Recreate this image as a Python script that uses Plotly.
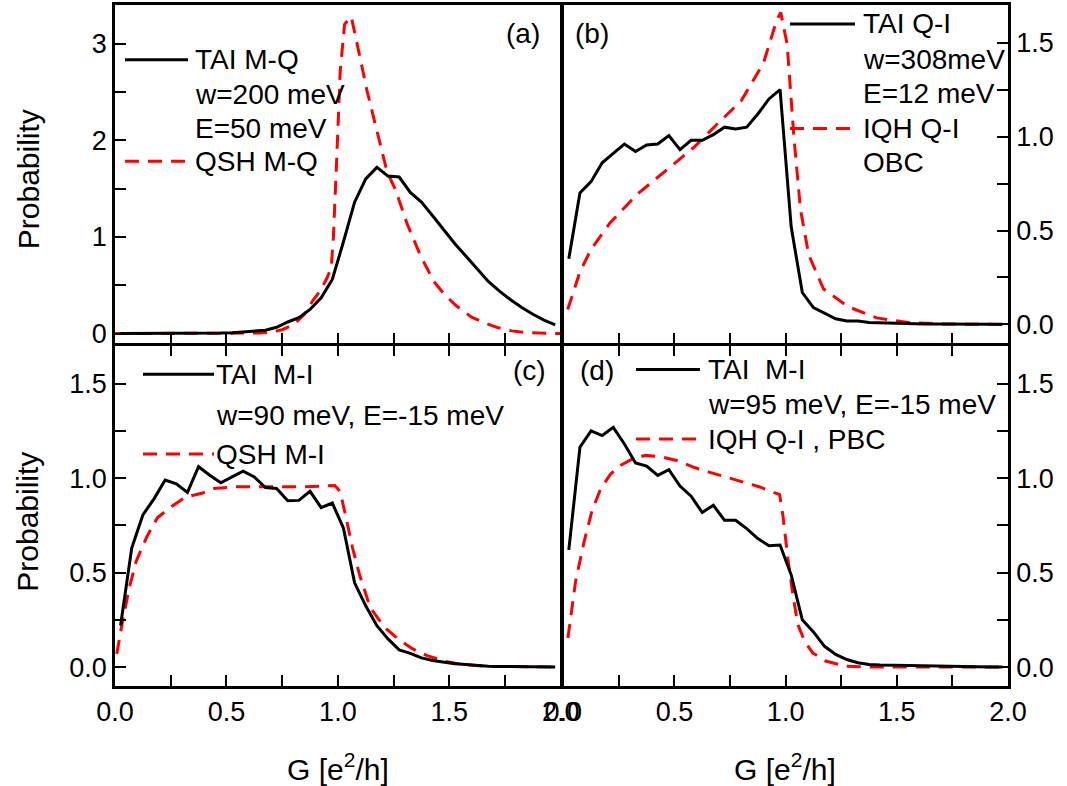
import plotly.graph_objects as go

# ---------------- data ----------------
# (a) TAI M-Q (binned histogram, bin centres) and QSH M-Q
a_tai_x = [0.025, 0.075, 0.125, 0.175, 0.225, 0.275, 0.325, 0.375, 0.425, 0.475,
           0.525, 0.575, 0.625, 0.675, 0.725, 0.775, 0.825, 0.875, 0.925, 0.975,
           1.025, 1.075, 1.125, 1.175, 1.225, 1.275, 1.325, 1.375, 1.425, 1.475,
           1.525, 1.575, 1.625, 1.675, 1.725, 1.775, 1.825, 1.875, 1.925, 1.975]
a_tai_y = [0.0, 0.0, 0.0, 0.0, 0.0, 0.0, 0.0, 0.0, 0.002, 0.005,
           0.01, 0.02, 0.025, 0.035, 0.065, 0.12, 0.165, 0.25, 0.37, 0.56,
           0.95, 1.36, 1.60, 1.72, 1.63, 1.62, 1.46, 1.36, 1.22, 1.07,
           0.93, 0.80, 0.67, 0.54, 0.44, 0.35, 0.27, 0.20, 0.14, 0.09]
a_qsh_x = [0.0, 0.1, 0.2, 0.3, 0.4, 0.5, 0.6, 0.65, 0.7, 0.75, 0.8, 0.85, 0.89, 0.92,
           0.95, 0.97, 0.98, 0.99, 1.0, 1.01, 1.03, 1.06, 1.08, 1.1, 1.13, 1.18, 1.22,
           1.26, 1.31, 1.37, 1.43, 1.48, 1.53, 1.6, 1.66, 1.72, 1.78, 1.85, 1.9, 2.0]
a_qsh_y = [0.0, 0.0, 0.0, 0.0, 0.0, 0.0, 0.003, 0.006, 0.015, 0.04, 0.09, 0.2, 0.35, 0.44,
           0.57, 0.68, 1.0, 1.5, 2.1, 2.7, 3.2, 3.28, 3.05, 2.85, 2.52, 2.04, 1.68,
           1.48, 1.14, 0.81, 0.54, 0.40, 0.29, 0.17, 0.11, 0.06, 0.028, 0.01, 0.005, 0.0]

# (b) TAI Q-I and IQH Q-I (OBC)
b_tai_x = a_tai_x
b_tai_y = [0.35, 0.70, 0.76, 0.86, 0.91, 0.96, 0.92, 0.955, 0.96, 1.005,
           0.93, 0.98, 0.98, 1.01, 1.05, 1.04, 1.05, 1.12, 1.20, 1.25,
           0.52, 0.17, 0.09, 0.06, 0.03, 0.018, 0.018, 0.01, 0.008, 0.006,
           0.005, 0.004, 0.003, 0.003, 0.002, 0.002, 0.002, 0.001, 0.001, 0.001]
b_iqh_x = [0.02, 0.075, 0.125, 0.21, 0.33, 0.46, 0.59, 0.69, 0.8, 0.9, 0.96, 0.978,
           1.007, 1.037, 1.067, 1.104, 1.17, 1.28, 1.41, 1.56, 1.7, 1.85, 2.0]
b_iqh_y = [0.08, 0.28, 0.40, 0.54, 0.69, 0.82, 0.945, 1.064, 1.19, 1.39, 1.62, 1.66,
           1.49, 1.0, 0.61, 0.37, 0.19, 0.095, 0.035, 0.009, 0.003, 0.001, 0.0]

# (c) TAI M-I and QSH M-I
c_tai_x = a_tai_x
c_tai_y = [0.22, 0.63, 0.805, 0.89, 0.99, 0.97, 0.924, 1.06, 1.015, 0.975,
           1.006, 1.036, 1.006, 0.95, 0.945, 0.88, 0.882, 0.93, 0.844, 0.868,
           0.735, 0.446, 0.324, 0.219, 0.149, 0.091, 0.073, 0.049, 0.035, 0.025,
           0.018, 0.014, 0.009, 0.004, 0.003, 0.002, 0.002, 0.001, 0.001, 0.001]
c_qsh_x = [0.008, 0.032, 0.064, 0.095, 0.143, 0.19, 0.254, 0.318, 0.39, 0.445, 0.54,
           0.684, 0.843, 0.986, 1.01, 1.034, 1.066, 1.097, 1.145, 1.21, 1.27, 1.336,
           1.4, 1.48, 1.56, 1.67, 1.8, 2.0]
c_qsh_y = [0.07, 0.23, 0.42, 0.56, 0.69, 0.79, 0.85, 0.9, 0.92, 0.945, 0.954,
           0.954, 0.954, 0.96, 0.93, 0.805, 0.63, 0.49, 0.315, 0.21, 0.149, 0.096,
           0.061, 0.031, 0.014, 0.004, 0.001, 0.0]

# (d) TAI M-I and IQH Q-I (PBC)
d_tai_x = a_tai_x
d_tai_y = [0.62, 1.163, 1.25, 1.225, 1.268, 1.18, 1.08, 1.063, 1.014, 1.044,
           0.958, 0.904, 0.818, 0.856, 0.777, 0.777, 0.733, 0.68, 0.642, 0.646,
           0.488, 0.25, 0.186, 0.11, 0.067, 0.04, 0.023, 0.014, 0.011, 0.01,
           0.007, 0.005, 0.004, 0.003, 0.002, 0.002, 0.001, 0.001, 0.001, 0.001]
d_iqh_x = [0.021, 0.055, 0.093, 0.13, 0.167, 0.212, 0.257, 0.309, 0.369, 0.436, 0.51,
           0.585, 0.66, 0.734, 0.81, 0.884, 0.973, 0.988, 1.01, 1.033, 1.055, 1.085,
           1.122, 1.18, 1.27, 1.4, 2.0]
d_iqh_y = [0.154, 0.45, 0.66, 0.83, 0.94, 1.02, 1.067, 1.10, 1.12, 1.114, 1.093,
           1.058, 1.03, 1.005, 0.98, 0.953, 0.912, 0.80, 0.575, 0.38, 0.225, 0.137,
           0.075, 0.032, 0.005, 0.0, 0.0]

# tick positions (every minor step) and their labels (blank on minor steps)
x_tick_vals = [0.0, 0.25, 0.5, 0.75, 1.0, 1.25, 1.5, 1.75, 2.0]
x_tick_text = ["0.0", "", "0.5", "", "1.0", "", "1.5", "", "2.0"]
a_y_tick_vals = [0.0, 0.5, 1.0, 1.5, 2.0, 2.5, 3.0]
a_y_tick_text = ["0", "", "1", "", "2", "", "3"]
y_tick_vals = [0.0, 0.25, 0.5, 0.75, 1.0, 1.25, 1.5]
y_tick_text = ["0.0", "", "0.5", "", "1.0", "", "1.5"]

# ---------------- styling ----------------
FONT = "Liberation Sans, Arial, sans-serif"
W, H = 1067, 786
ML, MR, MT, MB = 115, 59, 2, 100
LW = 2.5
PW = W - ML - MR
PH = H - MT - MB
XMID = 562          # shared vertical frame line
YMID = 343          # shared horizontal frame line
XL_END = (XMID - LW / 2 - ML) / PW
XR_START = (XMID + LW / 2 - ML) / PW
YB_END = (H - MB - YMID - LW / 2) / PH
YT_START = (H - MB - YMID + LW / 2) / PH

SOLID = dict(color="black", width=3)
DASHED = dict(color="#ff0000", width=3, dash="14px,9px")


def px(X):
    return (X - ML) / PW


def py(Y):
    return (H - MB - Y) / PH


fig = go.Figure()
panels = [
    ("x", "y", a_tai_x, a_tai_y, a_qsh_x, a_qsh_y),
    ("x2", "y2", b_tai_x, b_tai_y, b_iqh_x, b_iqh_y),
    ("x3", "y3", c_tai_x, c_tai_y, c_qsh_x, c_qsh_y),
    ("x4", "y4", d_tai_x, d_tai_y, d_iqh_x, d_iqh_y),
]
for xa, ya, sx, sy, dx, dy in panels:
    fig.add_trace(go.Scatter(x=dx, y=dy, mode="lines", line=DASHED,
                             xaxis=xa, yaxis=ya, showlegend=False))
    fig.add_trace(go.Scatter(x=sx, y=sy, mode="lines", line=SOLID,
                             xaxis=xa, yaxis=ya, showlegend=False))

tickfont = dict(family=FONT, size=27, color="black")


def xaxis(domain, anchor, labels, mirror):
    return dict(domain=domain, anchor=anchor, range=[0, 2], tickmode="array",
                tickvals=x_tick_vals, ticktext=x_tick_text, showticklabels=labels,
                ticks="inside", ticklen=11, tickwidth=2, tickcolor="black",
                showline=True, linewidth=LW, linecolor="black", mirror=mirror,
                showgrid=False, zeroline=False, tickfont=tickfont)


def yaxis(domain, anchor, rng, vals, txt, side):
    return dict(domain=domain, anchor=anchor, range=rng, tickmode="array",
                tickvals=vals, ticktext=txt, side=side, ticks="inside", ticklen=11,
                tickwidth=2, tickcolor="black", showline=True, linewidth=LW,
                linecolor="black", mirror=True, showgrid=False, zeroline=False,
                tickfont=tickfont)


top = [YT_START, 1]
bot = [0, YB_END]
left = [0, XL_END]
right = [XR_START, 1]

fig.update_layout(
    width=W, height=H,
    margin=dict(l=ML, r=MR, t=MT, b=MB, pad=0),
    paper_bgcolor="white", plot_bgcolor="white",
    font=dict(family=FONT, color="black"),
    xaxis=xaxis(left, "y", False, True),
    xaxis2=xaxis(right, "y2", False, True),
    xaxis3=xaxis(left, "y3", True, "ticks"),
    xaxis4=xaxis(right, "y4", True, "ticks"),
    yaxis=yaxis(top, "x", [-0.1, 3.4], a_y_tick_vals, a_y_tick_text, "left"),
    yaxis2=yaxis(top, "x2", [-0.1, 1.7], y_tick_vals, y_tick_text, "right"),
    yaxis3=yaxis(bot, "x3", [-0.1, 1.7], y_tick_vals, y_tick_text, "left"),
    yaxis4=yaxis(bot, "x4", [-0.1, 1.7], y_tick_vals, y_tick_text, "right"),
)

# ---------------- text: titles, panel tags and legends ----------------
annotations = []


def text(X, Y, s, size=28, anchor="left", angle=0):
    annotations.append(dict(x=px(X), y=py(Y), xref="paper", yref="paper", text=s,
                            showarrow=False, xanchor=anchor, yanchor="middle",
                            textangle=angle,
                            font=dict(family=FONT, size=size, color="black")))


shapes = []


def key(X0, X1, Y, style):
    shapes.append(dict(type="line", xref="paper", yref="paper", x0=px(X0), x1=px(X1),
                       y0=py(Y), y1=py(Y), line=style))


# axis titles
text(28, 177, "Probability", size=30, anchor="center", angle=-90)
text(28, 521, "Probability", size=30, anchor="center", angle=-90)
text(338, 767, "G [e<sup>2</sup>/h]", size=30, anchor="center")
text(785, 767, "G [e<sup>2</sup>/h]", size=30, anchor="center")

# panel tags
text(523, 31, "(a)", anchor="center")
text(592, 31, "(b)", anchor="center")
text(529, 369, "(c)", anchor="center")
text(597, 369, "(d)", anchor="center")

# legend (a)
key(125, 188, 57, SOLID)
text(193, 57, "TAI M-Q")
text(193, 92, "w=200 meV")
text(193, 126, "E=50 meV")
key(125, 188, 159, DASHED)
text(193, 159, "QSH M-Q")

# legend (b)
key(790, 855, 21, SOLID)
text(861, 21, "TAI Q-I")
text(861, 57, "w=308meV")
text(861, 91, "E=12 meV")
key(790, 855, 126, DASHED)
text(861, 126, "IQH Q-I")
text(861, 160, "OBC")

# legend (c)
key(143, 214, 373, SOLID)
text(214, 373, "TAI\u00a0 M-I")
text(214, 414, "w=90 meV, E=-15 meV")
key(143, 214, 453, DASHED)
text(214, 453, "QSH M-I")

# legend (d)
key(636, 700, 368, SOLID)
text(706, 368, "TAI\u00a0 M-I")
text(706, 403, "w=95 meV, E=-15 meV")
key(636, 700, 438, DASHED)
text(706, 438, "IQH Q-I , PBC")

fig.update_layout(annotations=annotations, shapes=shapes)

fig.write_html("out.html")
